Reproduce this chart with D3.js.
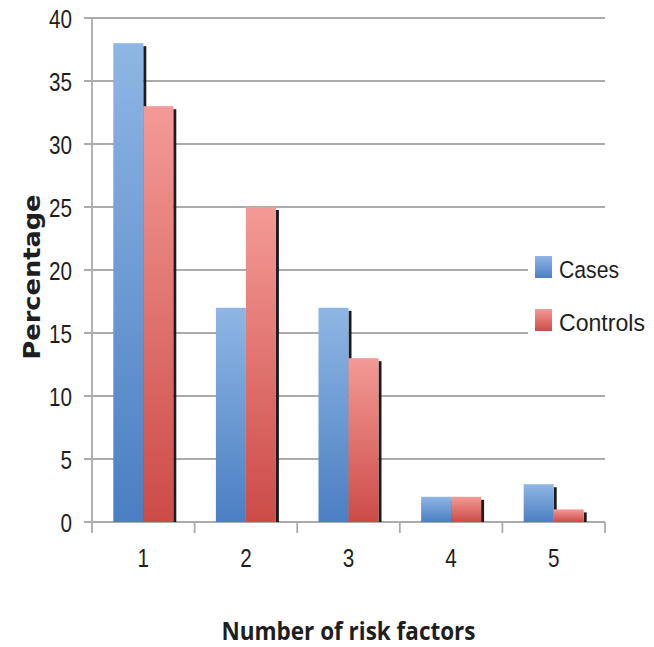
<!DOCTYPE html>
<html>
<head>
<meta charset="utf-8">
<script src="https://cdn.jsdelivr.net/npm/d3@7"></script>
<style>
  html, body { margin: 0; padding: 0; background: #fff; }
  svg { display: block; }
</style>
</head>
<body>
<svg id="chart" width="654" height="647"></svg>
<script>
// Risk-factor counts and the share of cases / controls in each group
const categories = ["1", "2", "3", "4", "5"];
const seriesNames = ["Cases", "Controls"];
const casesValues = [38, 17, 17, 2, 3];
const controlsValues = [33, 25, 13, 2, 1];
const yTicks = [0, 5, 10, 15, 20, 25, 30, 35, 40];

const seriesValues = { Cases: casesValues, Controls: controlsValues };

const svg = d3.select("#chart");
const margin = { left: 92, right: 49, top: 18, bottom: 125 };
const W = 654, H = 647;
const labelFont = "'Liberation Sans Narrow', 'Liberation Sans', Arial, sans-serif";

const x0 = d3.scaleBand().domain(categories).range([margin.left, W - margin.right]).padding(0);
const x1 = d3.scaleBand().domain(seriesNames).range([0, x0.bandwidth()]).paddingInner(0).paddingOuter(0.71);
const y = d3.scaleLinear().domain([0, 40]).range([H - margin.bottom, margin.top]);

const colors = {
  Cases: { top: "#8fb6e4", bottom: "#4a7fc3" },
  Controls: { top: "#f49a96", bottom: "#cc4b47" }
};

const defs = svg.append("defs");
seriesNames.forEach(s => {
  const g = defs.append("linearGradient").attr("id", "grad-" + s)
    .attr("x1", 0).attr("y1", 0).attr("x2", 0).attr("y2", 1);
  g.append("stop").attr("offset", "0%").attr("stop-color", colors[s].top);
  g.append("stop").attr("offset", "100%").attr("stop-color", colors[s].bottom);
});

// Gridlines (extended left to form the y tick marks)
svg.append("g").attr("class", "grid")
  .selectAll("line").data(yTicks).join("line")
  .attr("x1", margin.left - 8).attr("x2", W - margin.right)
  .attr("y1", d => y(d)).attr("y2", d => y(d))
  .attr("stroke", "#ababab").attr("stroke-width", 1.8);

// Y axis line
svg.append("line")
  .attr("x1", margin.left).attr("x2", margin.left)
  .attr("y1", y(40)).attr("y2", y(0))
  .attr("stroke", "#ababab").attr("stroke-width", 1.8);

// Category separator ticks below the x axis
const bounds = categories.map(c => x0(c)).concat([x0.range()[1]]);
svg.append("g").selectAll("line").data(bounds).join("line")
  .attr("x1", d => d).attr("x2", d => d)
  .attr("y1", y(0)).attr("y2", y(0) + 11)
  .attr("stroke", "#ababab").attr("stroke-width", 1.8);

// Y tick labels via d3 axis (condensed digits)
const yAxis = d3.axisLeft(y).tickValues(yTicks).tickSize(0).tickPadding(20);
const yg = svg.append("g").attr("transform", `translate(${margin.left},0)`).call(yAxis);
yg.select(".domain").remove();
yg.selectAll("text")
  .attr("font-family", labelFont)
  .attr("font-size", 25).attr("fill", "#1e1e1e").attr("dy", "0.36em")
  .attr("textLength", d => String(d).length * 11.5)
  .attr("lengthAdjust", "spacingAndGlyphs");

// X tick labels via d3 axis
const xAxis = d3.axisBottom(x0).tickSize(0).tickPadding(40);
const xg = svg.append("g").attr("transform", `translate(0,${y(0)})`).call(xAxis);
xg.select(".domain").remove();
xg.selectAll("text")
  .attr("font-family", labelFont)
  .attr("font-size", 25).attr("fill", "#1e1e1e").attr("dy", "0.2em")
  .attr("textLength", 11.5)
  .attr("lengthAdjust", "spacingAndGlyphs");

// Bars with a dark drop shadow on the right
const groups = svg.append("g").selectAll("g").data(categories).join("g")
  .attr("transform", c => `translate(${x0(c)},0)`);

groups.each(function (c, i) {
  const g = d3.select(this);
  const data = seriesNames.map(s => ({ s, v: seriesValues[s][i] }));
  // each shadow is drawn before the next bar so that bar covers it
  data.forEach(d => {
    g.append("rect")
      .attr("x", x1(d.s) + x1.bandwidth())
      .attr("y", y(d.v) + 3)
      .attr("width", 3)
      .attr("height", Math.max(0, y(0) - y(d.v) - 3))
      .attr("fill", "#1c1c1c");
    g.append("rect")
      .attr("x", x1(d.s))
      .attr("y", y(d.v))
      .attr("width", x1.bandwidth())
      .attr("height", y(0) - y(d.v))
      .attr("fill", `url(#grad-${d.s})`);
  });
});

// Legend on a white panel that hides the gridlines behind it
const legend = svg.append("g");
legend.append("rect").attr("x", 528).attr("y", 244).attr("width", 126).attr("height", 100)
  .attr("fill", "#fff");
const legendRows = [
  { s: "Cases", ry: 256, ty: 278, len: 60 },
  { s: "Controls", ry: 309, ty: 331, len: 86 }
];
legendRows.forEach(r => {
  legend.append("rect").attr("x", 535).attr("y", r.ry).attr("width", 17).attr("height", 22)
    .attr("fill", `url(#grad-${r.s})`);
  legend.append("text").attr("x", 559).attr("y", r.ty)
    .attr("font-family", labelFont)
    .attr("font-size", 24.5).attr("fill", "#1e1e1e")
    .attr("textLength", r.len).attr("lengthAdjust", "spacingAndGlyphs")
    .text(r.s);
});

// Axis titles
svg.append("text")
  .attr("x", (margin.left + W - margin.right) / 2).attr("y", 640)
  .attr("text-anchor", "middle")
  .attr("font-family", "'Open Sans', 'Liberation Sans', sans-serif")
  .attr("font-weight", "bold").attr("font-size", 25).attr("fill", "#1e1e1e")
  .attr("textLength", 254).attr("lengthAdjust", "spacingAndGlyphs")
  .text("Number of risk factors");

svg.append("text")
  .attr("transform", "translate(40,277) rotate(-90)")
  .attr("text-anchor", "middle")
  .attr("font-family", "'DejaVu Sans', sans-serif")
  .attr("font-weight", "bold").attr("font-size", 23).attr("fill", "#1e1e1e")
  .attr("textLength", 165).attr("lengthAdjust", "spacingAndGlyphs")
  .text("Percentage");
</script>
</body>
</html>
